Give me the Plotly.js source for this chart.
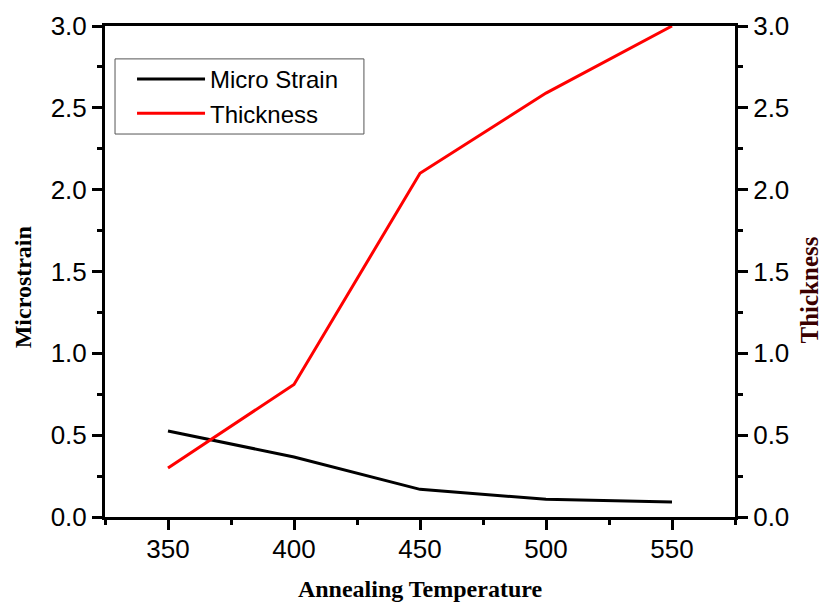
<!DOCTYPE html>
<html>
<head>
<meta charset="utf-8">
<script src="https://cdn.plot.ly/plotly-3.0.1.min.js"></script>
<style>html,body{margin:0;padding:0;background:#fff;}#chart{width:823px;height:602px;}</style>
</head>
<body>
<div id="chart"></div>
<script>
const temperature = [350, 400, 450, 500, 550];
const microStrain = [0.525, 0.367, 0.169, 0.108, 0.092];
const thickness = [0.30, 0.81, 2.10, 2.59, 3.00];
const xTickVals = [350, 400, 450, 500, 550];
const yTickVals = [0.0, 0.5, 1.0, 1.5, 2.0, 2.5, 3.0];
const xTitle = 'Annealing Temperature';
const yTitle = 'Microstrain';
const y2Title = 'Thickness';

const tickFont = {family: 'Liberation Sans, Arial, sans-serif', size: 26, color: '#000'};
const titleFont = {family: 'Liberation Serif, Times New Roman, serif', size: 24, color: '#000', weight: 'bold'};

const traces = [
  {x: temperature, y: microStrain, name: 'Micro Strain', type: 'scatter', mode: 'lines',
   line: {color: '#000000', width: 3}, xaxis: 'x', yaxis: 'y'},
  {x: temperature, y: thickness, name: 'Thickness', type: 'scatter', mode: 'lines',
   line: {color: '#ff0000', width: 3}, xaxis: 'x', yaxis: 'y2'}
];

function yAxisCfg(extra) {
  return Object.assign({
    range: [0, 3], tickvals: yTickVals, ticktext: yTickVals.map(v => v.toFixed(1)),
    showgrid: false, zeroline: false,
    showline: true, linecolor: '#000', linewidth: 3,
    ticks: 'outside', ticklen: 10, tickwidth: 3, tickcolor: '#000',
    minor: {dtick: 0.25, tick0: 0, ticks: 'outside', ticklen: 5, tickwidth: 3, tickcolor: '#000', showgrid: false},
    tickfont: tickFont
  }, extra);
}

const layout = {
  width: 823, height: 602,
  margin: {l: 105, r: 88, t: 26, b: 85},
  paper_bgcolor: '#fff', plot_bgcolor: '#fff',
  showlegend: true,
  legend: {x: 0.0429, y: 0.937, xanchor: 'left', yanchor: 'top',
    borderwidth: 0, bgcolor: 'rgba(0,0,0,0)',
    font: {family: 'Liberation Sans, Arial, sans-serif', size: 24, color: '#000'},
    itemwidth: 68, tracegroupgap: 0},
  shapes: [
    {type: 'rect', xref: 'paper', yref: 'paper', x0: 0.0159, x1: 0.411, y0: 0.780, y1: 0.933,
     line: {color: '#555', width: 1}, fillcolor: 'rgba(0,0,0,0)', layer: 'above'}
  ],
  annotations: [
    {text: yTitle, xref: 'paper', yref: 'paper', x: -0.130, y: 0.468, textangle: -90,
     showarrow: false, xanchor: 'center', yanchor: 'middle', font: titleFont},
    {text: y2Title, xref: 'paper', yref: 'paper', x: 1.118, y: 0.462, textangle: -90,
     showarrow: false, xanchor: 'center', yanchor: 'middle',
     font: Object.assign({}, titleFont, {size: 25, color: '#3a0000'})}
  ],
  xaxis: {
    range: [325, 575], tickvals: xTickVals, ticktext: xTickVals.map(String),
    showgrid: false, zeroline: false,
    showline: true, linecolor: '#000', linewidth: 3, mirror: true,
    ticks: 'outside', ticklen: 10, tickwidth: 3, tickcolor: '#000',
    minor: {dtick: 25, tick0: 325, ticks: 'outside', ticklen: 5, tickwidth: 3, tickcolor: '#000', showgrid: false},
    tickfont: tickFont, ticklabelstandoff: -3,
    title: {text: xTitle, font: titleFont, standoff: 30}
  },
  yaxis: yAxisCfg({}),
  yaxis2: yAxisCfg({overlaying: 'y', side: 'right'})
};

Plotly.newPlot('chart', traces, layout, {displayModeBar: false, staticPlot: true});
</script>
</body>
</html>
